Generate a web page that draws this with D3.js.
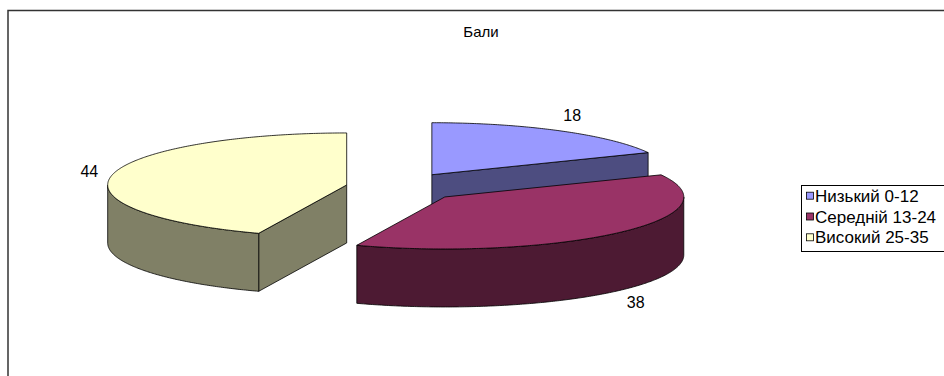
<!DOCTYPE html>
<html>
<head>
<meta charset="utf-8">
<script src="https://cdn.jsdelivr.net/npm/d3@7"></script>
<style>
  html, body { margin: 0; padding: 0; background: #fff; }
  svg { display: block; font-family: "Liberation Sans", Arial, sans-serif; }
</style>
</head>
<body>
<svg id="chart" width="944" height="376"></svg>
<script>
// ---- data ----
const title = "Бали";
const categories = ["Низький 0-12", "Середній 13-24", "Високий 25-35"];
const values = [18, 38, 44];

// ---- styles / layout ----
const topColors  = ["#9999FF", "#993366", "#FFFFCC"];
const sideColors = ["#4D4D80", "#4D1A33", "#808066"];
const explode = [0.28, 0.28, 0.21];
const center = { x: 396, y: 187 };
const rx = 239, ry = 52, depth = 58;

const svg = d3.select("#chart");

// frame
svg.append("rect")
  .attr("x", 8).attr("y", 10.5)
  .attr("width", 1000).attr("height", 500)
  .attr("fill", "none").attr("stroke", "#333").attr("stroke-width", 1.5);

svg.append("text")
  .attr("x", 481).attr("y", 36.5)
  .attr("text-anchor", "middle")
  .attr("font-size", 15)
  .text(title);

const pie = d3.pie().sort(null).startAngle(0).endAngle(2 * Math.PI).value(d => d);
const arcs = pie(values);

// position of point at angle a (clockwise from 12 o'clock) on ellipse around (cx,cy)
function pt(cx, cy, a, dy = 0) {
  return [cx + rx * Math.sin(a), cy - ry * Math.cos(a) + dy];
}
function arcPts(cx, cy, a0, a1, dy = 0) {
  const n = Math.max(2, Math.ceil(Math.abs(a1 - a0) / 0.01));
  const pts = [];
  for (let i = 0; i <= n; i++) pts.push(pt(cx, cy, a0 + (a1 - a0) * i / n, dy));
  return pts;
}
const line = d3.line();

const slices = arcs.map((d, i) => {
  const mid = (d.startAngle + d.endAngle) / 2;
  const e = explode[i];
  const cx = center.x + e * rx * Math.sin(mid);
  const cy = center.y - e * ry * Math.cos(mid);
  return { d, i, mid, cx, cy };
});

// draw back to front
const order = slices.slice().sort((a, b) => a.cy - b.cy);
const g = svg.append("g");
const stroke = { stroke: "#000", "stroke-width": 0.8, "stroke-linejoin": "round" };

order.forEach(s => {
  const { d, i, cx, cy } = s;
  const a0 = d.startAngle, a1 = d.endAngle;
  const faces = [];
  // cut face at start angle
  if (Math.sin(a0) < -1e-6) {
    const p = pt(cx, cy, a0);
    faces.push([[cx, cy], p, [p[0], p[1] + depth], [cx, cy + depth]]);
  }
  // cut face at end angle
  if (Math.sin(a1) > 1e-6) {
    const p = pt(cx, cy, a1);
    faces.push([[cx, cy], p, [p[0], p[1] + depth], [cx, cy + depth]]);
  }
  // outer wall (front half: 90deg .. 270deg)
  const w0 = Math.max(a0, Math.PI / 2), w1 = Math.min(a1, 3 * Math.PI / 2);
  if (w1 > w0) {
    const top = arcPts(cx, cy, w0, w1);
    const bot = arcPts(cx, cy, w1, w0, depth);
    faces.push(top.concat(bot));
  }
  faces.forEach(f => {
    const p = g.append("path").attr("d", line(f) + "Z").attr("fill", sideColors[i]);
    Object.entries(stroke).forEach(([k, v]) => p.attr(k, v));
  });
  // top face
  const topPts = [[cx, cy]].concat(arcPts(cx, cy, a0, a1));
  const tp = g.append("path").attr("d", line(topPts) + "Z").attr("fill", topColors[i]);
  Object.entries(stroke).forEach(([k, v]) => tp.attr(k, v));
});

// data labels
slices.forEach(s => {
  const c = Math.cos(s.mid);
  const lx = s.cx + (rx + 23) * Math.sin(s.mid);
  const ly = s.cy - (ry + 18) * c + (c < 0 ? depth : 0);
  svg.append("text")
    .attr("x", lx).attr("y", ly)
    .attr("text-anchor", "middle")
    .attr("dominant-baseline", "central")
    .attr("font-size", 16)
    .text(values[s.i]);
});

// legend
const lg = svg.append("g");
lg.append("rect")
  .attr("x", 801.5).attr("y", 185.5)
  .attr("width", 200).attr("height", 66)
  .attr("fill", "#fff").attr("stroke", "#000").attr("stroke-width", 1);
categories.forEach((c, i) => {
  const by = 201.7 + i * 20.8;
  lg.append("rect")
    .attr("x", 806.5).attr("y", by - 9.5)
    .attr("width", 7).attr("height", 7)
    .attr("fill", topColors[i]).attr("stroke", "#000").attr("stroke-width", 0.8);
  lg.append("text")
    .attr("x", 815).attr("y", by)
    .attr("font-size", 17)
    .text(c);
});
</script>
</body>
</html>
